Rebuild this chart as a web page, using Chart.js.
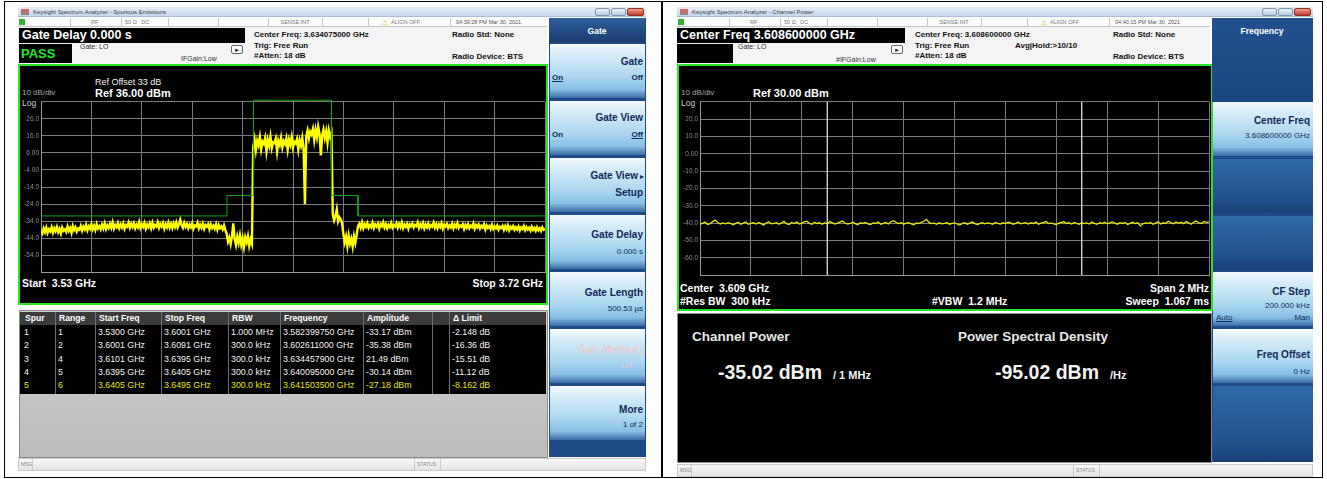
<!DOCTYPE html>
<html>
<head>
<meta charset="utf-8">
<title>Spectrum analyzer screens</title>
<script src="https://cdn.jsdelivr.net/npm/chart.js@4.4.1/dist/chart.umd.min.js"></script>
<style>
  body { margin:0; width:1327px; height:479px; background:#fff; position:relative; overflow:hidden;
         font-family:"Liberation Sans", Arial, sans-serif; }
  .a { position:absolute; box-sizing:border-box; }
  .t { position:absolute; white-space:pre; line-height:1; }
  .key { background:linear-gradient(#f4fafd 0%, #d6ecf8 20%, #acd7ef 60%, #88bfe3 84%, #3a6ca6 100%); }
  .slot { background:linear-gradient(#3068a8, #23528f 70%, #1b4178); }
  canvas { position:absolute; z-index:5; }
</style>
</head>
<body>
<canvas id="spurChart" width="527" height="182" style="left:20px;top:96px"></canvas>
<canvas id="cpChart" width="530" height="185" style="left:680px;top:96px"></canvas>
<script>
// ---------- left screen: spurious emissions sweep ----------
const spurStartGHz = 3.53;
const spurStopGHz = 3.72;
// trace in dBm, one point every 0.5 MHz
const spurTrace = [
  -39.5,-41.2,-38.3,-40.6,-37.9,-41.0,-38.8,-40.1,-37.6,-40.8,
  -38.2,-39.9,-37.4,-40.5,-38.6,-41.3,-37.8,-39.7,-38.9,-40.4,
  -37.2,-39.8,-38.1,-40.9,-36.9,-39.3,-37.7,-40.2,-38.4,-39.1,
  -36.8,-39.6,-37.3,-38.9,-36.2,-39.4,-37.1,-38.6,-35.9,-38.8,
  -36.7,-39.2,-35.8,-38.4,-37.0,-38.9,-36.1,-38.3,-35.4,-38.7,
  -36.5,-38.1,-35.6,-37.9,-34.8,-38.5,-36.3,-37.6,-35.2,-38.2,
  -36.0,-37.8,-35.5,-38.6,-36.4,-37.3,-34.9,-38.0,-35.7,-37.5,
  -35.3,-38.3,-36.2,-37.7,-34.6,-38.1,-35.9,-37.4,-35.1,-38.4,
  -36.1,-37.6,-35.4,-38.2,-35.0,-37.9,-36.3,-37.2,-34.7,-38.0,
  -35.8,-37.3,-35.2,-38.5,-36.0,-37.7,-34.9,-37.9,-35.6,-38.1,
  -35.4,-37.5,-34.8,-37.8,-35.9,-33.2,-36.4,-38.0,-35.1,-37.4,
  -35.7,-38.2,-36.1,-37.6,-35.3,-38.4,-36.6,-37.1,-35.0,-38.3,
  -36.2,-37.9,-35.5,-38.6,-36.4,-37.3,-35.8,-38.8,-36.0,-38.1,
  -36.7,-38.5,-35.9,-39.0,-36.3,-38.2,-37.1,-38.9,-36.5,-39.3,
  -41.5,-46.2,-43.8,-47.5,-42.9,-35.4,-44.6,-48.1,-43.2,-46.9,
  -42.4,-47.8,-44.1,-49.2,-43.5,-46.4,-42.8,-48.6,-44.9,-47.3,
  9.8,14.1,7.6,13.2,10.5,15.3,8.2,12.7,11.4,14.8,
  7.1,13.6,10.2,15.6,8.9,12.3,11.8,14.4,6.8,13.1,
  10.7,15.0,9.3,12.9,11.2,14.6,8.0,13.8,10.9,15.4,
  9.1,12.5,11.6,14.2,7.9,13.4,10.3,14.9,8.6,-24.1,
  15.8,19.2,14.6,18.5,16.9,20.1,13.7,19.6,15.2,21.5,
  17.4,4.6,16.3,19.8,14.9,18.7,12.1,19.3,15.6,17.8,
  -30.1,-33.6,-31.2,-27.2,-34.1,-31.8,-33.0,-35.2,
  -41.8,-46.5,-43.1,-48.7,-42.6,-47.2,-44.4,-49.1,-43.0,-46.8,-42.2,
  -37.0,
  -35.6,-37.9,-34.8,-38.2,-35.9,-37.4,-35.2,-38.0,-36.3,-37.6,
  -34.9,-38.1,-36.0,-37.3,-35.5,-38.4,-35.8,-37.0,-34.7,-37.8,
  -35.9,-38.3,-36.2,-37.5,-35.1,-37.9,-36.4,-37.2,-35.3,-38.0,
  -35.7,-37.6,-34.9,-38.2,-36.1,-37.4,-35.6,-38.5,-36.0,-37.1,
  -35.4,-37.8,-36.3,-37.0,-34.8,-38.1,-35.9,-37.5,-35.2,-38.3,
  -36.1,-37.7,-35.5,-38.0,-36.4,-37.3,-35.0,-37.9,-35.8,-38.2,
  -36.0,-37.6,-35.3,-38.4,-36.2,-37.2,-35.7,-38.1,-36.5,-37.8,
  -35.6,-38.3,-36.1,-37.5,-35.2,-38.0,-36.6,-37.4,-35.9,-38.6,
  -36.3,-37.9,-35.8,-38.2,-36.7,-37.6,-35.4,-38.5,-36.4,-37.7,
  -36.0,-38.4,-36.8,-37.8,-35.9,-38.9,-36.5,-38.0,-36.9,-38.7,
  -36.2,-38.6,-37.1,-38.3,-36.6,-39.0,-37.3,-38.1,-36.8,-39.2,
  -37.0,-38.8,-36.5,-39.4,-37.4,-38.5,-36.9,-39.1,-37.6,-38.9,
  -37.2,-39.5,-37.8,-38.7,-36.9,-39.3,-37.5,-39.0,-37.9,-39.6,
  -37.3,-39.2,-38.0,-39.7,-37.6,-39.4,-38.2,-39.8,-37.7,-39.1,-38.4
];
const limitFreqs  = [3.53, 3.6001, 3.6001, 3.6101, 3.6101, 3.6395, 3.6395, 3.6495, 3.6495, 3.72];
const limitLevels = [-31, -31, -19, -19, 37, 37, -19, -19, -31, -31];
const spurRefLevel = 36;
const spurYLabels = ['', '26.0', '16.0', '6.00', '-4.00', '-14.0', '-24.0', '-34.0', '-44.0', '-54.0', ''];

const spurTableHead = ['Spur', 'Range', 'Start Freq', 'Stop Freq', 'RBW', 'Frequency', 'Amplitude', '', '\u0394 Limit'];
const spurTableRows = [
  ['1', '1', '3.5300 GHz', '3.6001 GHz', '1.000 MHz', '3.582399750 GHz', '-33.17 dBm', '', '-2.148 dB'],
  ['2', '2', '3.6001 GHz', '3.6091 GHz', '300.0 kHz', '3.602611000 GHz', '-35.38 dBm', '', '-16.36 dB'],
  ['3', '4', '3.6101 GHz', '3.6395 GHz', '300.0 kHz', '3.634457900 GHz', '21.49 dBm', '', '-15.51 dB'],
  ['4', '5', '3.6395 GHz', '3.6405 GHz', '300.0 kHz', '3.640095000 GHz', '-30.14 dBm', '', '-11.12 dB'],
  ['5', '6', '3.6405 GHz', '3.6495 GHz', '300.0 kHz', '3.641503500 GHz', '-27.18 dBm', '', '-8.162 dB']
];

// ---------- right screen: channel power sweep ----------
const cpStartGHz = 3.6076;
const cpStopGHz = 3.6096;
const cpTrace = [
  -40.6,-40.1,-39.4,-40.8,-40.3,-39.1,-38.2,-39.6,-40.5,-39.9,
  -40.4,-39.7,-40.2,-40.9,-40.1,-39.5,-40.6,-40.0,-39.3,-40.7,
  -40.2,-39.8,-40.5,-39.6,-40.3,-41.0,-39.9,-39.2,-40.4,-40.1,
  -39.7,-40.6,-39.9,-39.0,-40.3,-40.8,-39.6,-40.2,-39.4,-40.5,
  -40.0,-39.3,-38.9,-40.1,-40.7,-39.5,-40.2,-39.8,-40.6,-39.7,
  -40.4,-39.1,-39.8,-40.5,-40.0,-39.4,-38.8,-39.9,-40.6,-40.2,
  -39.5,-40.3,-40.9,-39.8,-40.1,-39.6,-40.4,-40.8,-39.9,-40.2,
  -39.4,-40.7,-40.1,-39.6,-40.5,-39.2,-38.6,-39.5,-40.3,-39.8,
  -40.6,-40.0,-39.7,-40.4,-40.9,-39.9,-40.2,-39.5,-38.9,-37.8,
  -39.6,-40.3,-40.0,-40.7,-39.8,-40.4,-40.1,-39.7,-40.6,-40.2,
  -39.9,-40.5,-41.1,-40.3,-39.8,-40.6,-40.0,-39.4,-40.3,-40.8,
  -40.1,-39.7,-40.4,-39.9,-40.2,-40.7,-39.6,-40.1,-40.5,-39.8,
  -40.3,-39.5,-39.9,-40.6,-40.1,-39.3,-40.4,-40.0,-39.7,-40.5,
  -39.8,-40.2,-39.4,-40.7,-40.0,-39.6,-39.1,-40.3,-39.9,-40.4,
  -40.8,-40.0,-39.5,-39.2,-40.2,-39.8,-40.5,-39.6,-40.1,-40.6,
  -39.7,-40.3,-39.9,-40.5,-39.4,-40.1,-40.7,-39.8,-40.2,-39.5,
  -40.4,-39.9,-39.3,-40.0,-40.6,-39.7,-40.2,-39.6,-40.8,-40.1,
  -39.5,-40.3,-39.8,-41.6,-40.4,-39.9,-40.2,-39.6,-40.7,-40.0,
  -39.2,-40.5,-39.8,-40.1,-38.9,-39.7,-40.4,-39.3,-40.0,-39.5,
  -40.3,-39.1,-39.8,-40.6,-39.4,-38.8,-39.9,-40.2,-39.0,-39.6,-39.3
];
const cpChannelEdges = [3.6081, 3.6091];
const cpRefLevel = 30;
const cpYLabels = ['', '20.0', '10.0', '0.00', '-10.0', '-20.0', '-30.0', '-40.0', '-50.0', '-60.0', ''];

// ---------- helpers ----------
const page = document.body;
function box(x, y, w, h, css, cls) {
  const d = document.createElement('div');
  d.className = 'a' + (cls ? ' ' + cls : '');
  d.style.cssText = `left:${x}px;top:${y}px;width:${w}px;height:${h}px;` + (css || '');
  page.appendChild(d);
  return d;
}
function text(x, yc, s, size, css, align) {
  const d = document.createElement('div');
  d.className = 't';
  d.textContent = s;
  let pos = `left:${x}px;`;
  if (align === 'r') pos = `right:${1327 - x}px;`;
  if (align === 'c') pos = `left:${x}px;transform:translateX(-50%);`;
  d.style.cssText = pos + `top:${(yc - size * 0.49).toFixed(1)}px;font-size:${size}px;` + (css || '');
  page.appendChild(d);
  return d;
}
const navy = 'color:#0f2a5a;font-weight:bold;';

// window frame shared by both screenshots
function chrome(ox, w, hdrW, title, clock, msgY, skBottom) {
  box(ox, 7, w, 10, 'background:linear-gradient(#e8f0f9,#c6d7ed);border-bottom:1px solid #a9bdd6');
  box(ox + 3, 9, 8, 6, 'background:linear-gradient(#e0605a,#8a8a8a)');
  text(ox + 15, 12, title, 6, 'color:#3b3b3b');
  box(ox + w - 51, 8, 15, 8, 'background:linear-gradient(#eef4fa,#b7cae1);border:1px solid #8497b0;border-radius:2px');
  box(ox + w - 35, 8, 15, 8, 'background:linear-gradient(#eef4fa,#b7cae1);border:1px solid #8497b0;border-radius:2px');
  box(ox + w - 19, 8, 17, 8, 'background:linear-gradient(#eba294,#c33a29);border:1px solid #8e2f22;border-radius:2px');
  // status row
  box(ox, 18, hdrW, 9, 'background:#fcfcfc;border-bottom:1px solid #c4c4c4');
  box(ox + 1, 19, 6, 6, 'background:#2fb52f');
  [52, 103, 150, 200, 250, 304, 350, 432].forEach(p => box(ox + p, 18, 1, 9, 'background:#c8c8c8'));
  text(ox + 73, 22.5, 'RF', 5.5, 'color:#777');
  text(ox + 107, 22.5, '50 \u03a9   DC', 5.5, 'color:#777');
  text(ox + 277, 22.5, 'SENSE:INT', 5.5, 'color:#777', 'c');
  text(ox + 364, 22.5, '\u26a0', 7, 'color:#d9b400');
  text(ox + 373, 22.5, 'ALIGN OFF', 5.5, 'color:#777');
  text(ox + 438, 22.5, clock, 5.5, 'color:#555');
  // header
  box(ox, 27, hdrW, 37, 'background:#f4f4f4');
  // message bar
  box(ox, msgY, w, 13, 'background:linear-gradient(#f8f8f8,#e4e4e4);border:1px solid #cacaca');
  text(ox + 3, msgY + 6.5, 'MSG', 5, 'color:#888');
  box(ox + 14, msgY, 1, 13, 'background:#cacaca');
  box(ox + 396, msgY, 1, 13, 'background:#cacaca');
  text(ox + 399, msgY + 6.5, 'STATUS', 5, 'color:#888');
  box(ox + 422, msgY, 1, 13, 'background:#cacaca');
  // softkey column
  box(ox + hdrW + 2, 18, w - hdrW - 2, skBottom - 18, 'background:#1f4a86');
}

// ---------- left window ----------
chrome(18, 628, 529, 'Keysight Spectrum Analyzer - Spurious Emissions', '04:39:28 PM Mar 30, 2021', 458, 457);
box(19, 28, 226, 15, 'background:#000');
text(22, 35.5, 'Gate Delay 0.000 s', 12.5, 'color:#fff;font-weight:bold');
box(19, 44, 53, 19, 'background:#000');
text(21, 53.5, 'PASS', 13, 'color:#22e822;font-weight:bold');
text(80, 46, 'Gate: LO', 7, 'color:#333');
text(181, 58.5, 'IFGain:Low', 7, 'color:#333');
box(231, 45, 12, 9, 'border:1px solid #666;background:#fff;border-radius:2px');
text(234, 49.5, '\u25ba', 6, 'color:#222');
text(254, 35, 'Center Freq: 3.634075000 GHz', 8, 'color:#111;font-weight:bold');
text(254, 45.5, 'Trig: Free Run', 8, 'color:#111;font-weight:bold');
text(254, 56, '#Atten: 18 dB', 8, 'color:#111;font-weight:bold');
text(452, 35, 'Radio Std: None', 8, 'color:#111;font-weight:bold');
text(452, 57, 'Radio Device: BTS', 8, 'color:#111;font-weight:bold');

box(18, 64, 530, 241, 'background:#000;border:2px solid #27e427');
text(95, 82, 'Ref Offset 33 dB', 9, 'color:#f2f2f2');
text(95, 93, 'Ref 36.00 dBm', 11, 'color:#fff;font-weight:bold');
text(22, 93, '10 dB/div', 8, 'color:#a8a8a8');
text(22, 103, 'Log', 8.5, 'color:#cfcfcf');
text(22, 283, 'Start  3.53 GHz', 10.5, 'color:#fff;font-weight:bold');
text(543, 283, 'Stop 3.72 GHz', 10.5, 'color:#fff;font-weight:bold', 'r');

// spur table
const colX = [21, 55, 95, 161, 228, 280, 363, 432, 449, 546];
const rowY0 = 325, rowH = 13.4;
const rowsBottom = Math.round(rowY0 + rowH * spurTableRows.length + 2);
box(19, 310, 529, 148, 'background:linear-gradient(#cfcfcf,#bcbcbc);border:1px solid #8c8c8c');
box(20, 312, 526, rowY0 - 312, 'background:#3b3b3b');
box(20, rowY0, 526, rowsBottom - rowY0, 'background:#000');
colX.slice(1, -1).forEach(x => box(x, 312, 1, rowsBottom - 312, 'background:#6e6e6e'));
spurTableHead.forEach((h, c) => text(colX[c] + 4, 318.5, h, 8.6, 'color:#fff;font-weight:bold'));
spurTableRows.forEach((r, i) => {
  const col = i === spurTableRows.length - 1 ? '#e6e600' : '#f4f4f4';
  r.forEach((v, c) => text(colX[c] + 3, rowY0 + 7 + i * rowH, v, 8.8, 'color:' + col));
});

// left softkeys
box(549, 18, 96, 24, 'background:linear-gradient(#2f5f9d,#1b3c70)');
text(597, 31, 'Gate', 8.5, 'color:#fff;font-weight:bold', 'c');
for (let k = 0; k < 7; k++) box(550, 44 + k * 57, 95, 54, '', 'key');
text(643, 62, 'Gate', 10, navy, 'r');
text(552, 78, 'On', 8, navy + 'text-decoration:underline');
text(643, 78, 'Off', 8, navy, 'r');
text(643, 118, 'Gate View', 10, navy, 'r');
text(552, 135, 'On', 8, navy);
text(643, 135, 'Off', 8, navy + 'text-decoration:underline', 'r');
text(638, 176, 'Gate View', 10, navy, 'r');
text(640, 177, '\u25b8', 8, 'color:#0f2a5a');
text(643, 193, 'Setup', 10, navy, 'r');
text(643, 235, 'Gate Delay', 10, navy, 'r');
text(643, 252, '0.000 s', 8, 'color:#0f2a5a', 'r');
text(643, 293, 'Gate Length', 10, navy, 'r');
text(643, 309, '500.53 \u00b5s', 8, 'color:#0f2a5a', 'r');
text(638, 350, 'Gate Method', 10, 'color:#e9cdd0;font-weight:bold', 'r');
text(641, 352, '\u25b8', 8, 'color:#e9cdd0');
text(632, 366, 'LO', 8, 'color:#e9cdd0', 'r');
text(643, 410, 'More', 10, navy, 'r');
text(643, 425, '1 of 2', 8, 'color:#0f2a5a', 'r');

// ---------- right window ----------
chrome(677, 636, 533, 'Keysight Spectrum Analyzer - Channel Power', '04:40:15 PM Mar 30, 2021', 464, 462);
box(677, 28, 228, 15, 'background:#000');
text(680, 35.5, 'Center Freq 3.608600000 GHz', 12.5, 'color:#fff;font-weight:bold');
box(677, 44, 56, 19, 'background:#000');
text(738, 46, 'Gate: LO', 7, 'color:#333');
text(836, 59, '#IFGain:Low', 7, 'color:#333');
box(891, 45, 12, 9, 'border:1px solid #666;background:#fff;border-radius:2px');
text(894, 49.5, '\u25ba', 6, 'color:#222');
text(915, 35, 'Center Freq: 3.608600000 GHz', 8, 'color:#111;font-weight:bold');
text(915, 45.5, 'Trig: Free Run', 8, 'color:#111;font-weight:bold');
text(1015, 46, 'Avg|Hold:>10/10', 8, 'color:#111;font-weight:bold');
text(915, 56, '#Atten: 18 dB', 8, 'color:#111;font-weight:bold');
text(1113, 35, 'Radio Std: None', 8, 'color:#111;font-weight:bold');
text(1113, 57, 'Radio Device: BTS', 8, 'color:#111;font-weight:bold');

box(677, 64, 536, 247, 'background:#000;border:2px solid #27e427');
text(681, 93, '10 dB/div', 8, 'color:#a8a8a8');
text(753, 93, 'Ref 30.00 dBm', 11, 'color:#fff;font-weight:bold');
text(681, 103, 'Log', 8.5, 'color:#cfcfcf');
text(680, 288, 'Center  3.609 GHz', 10.5, 'color:#fff;font-weight:bold');
text(680, 301, '#Res BW  300 kHz', 10.5, 'color:#fff;font-weight:bold');
text(932, 301, '#VBW  1.2 MHz', 10.5, 'color:#fff;font-weight:bold');
text(1209, 288, 'Span 2 MHz', 10.5, 'color:#fff;font-weight:bold', 'r');
text(1209, 301, 'Sweep  1.067 ms', 10.5, 'color:#fff;font-weight:bold', 'r');

box(677, 313, 535, 150, 'background:#000;border:1px solid #8a8a8a');
text(692, 337, 'Channel Power', 13.5, 'color:#e6e6e6;font-weight:bold');
text(958, 337, 'Power Spectral Density', 13.5, 'color:#e6e6e6;font-weight:bold');
text(718, 373, '-35.02 dBm', 19.5, 'color:#f2f2f2;font-weight:bold');
text(833, 375, '/ 1 MHz', 11, 'color:#f2f2f2;font-weight:bold');
text(995, 373, '-95.02 dBm', 19.5, 'color:#f2f2f2;font-weight:bold');
text(1110, 375, '/Hz', 11, 'color:#f2f2f2;font-weight:bold');

// right softkeys
box(1212, 18, 101, 84, 'background:linear-gradient(#22508e,#1d467f)');
text(1262, 31, 'Frequency', 8.5, 'color:#fff;font-weight:bold', 'c');
box(1213, 102, 100, 54, '', 'key');
box(1213, 159, 100, 54, '', 'slot');
box(1213, 216, 100, 54, '', 'slot');
box(1213, 272, 100, 54, '', 'key');
box(1213, 329, 100, 54, '', 'key');
box(1213, 386, 100, 76, '', 'slot');
text(1310, 121, 'Center Freq', 10, navy, 'r');
text(1310, 136, '3.608600000 GHz', 8, 'color:#0f2a5a', 'r');
text(1310, 292, 'CF Step', 10, navy, 'r');
text(1310, 306, '200.000 kHz', 8, 'color:#0f2a5a', 'r');
text(1216, 318, 'Auto', 8, 'color:#0f2a5a;text-decoration:underline');
text(1310, 318, 'Man', 8, 'color:#0f2a5a', 'r');
text(1310, 355, 'Freq Offset', 10, navy, 'r');
text(1310, 372, '0 Hz', 8, 'color:#0f2a5a', 'r');

// outer frame of the figure
box(4, 1, 1319, 477, 'border:1.5px solid #000');
box(661, 1, 1.5, 477, 'background:#000');

// ---------- charts ----------
Chart.defaults.font.family = '"Liberation Sans", Arial, sans-serif';
Chart.defaults.animation = false;

function gridScaleX(min, max) {
  return {
    type: 'linear', min: min, max: max,
    ticks: { display: false, count: 11 },
    grid: { color: '#7c7c7c', drawTicks: false },
    border: { color: '#9c9c9c' },
    afterFit: s => { s.height = 0; }
  };
}
function gridScaleY(ref, labels, axisW) {
  return {
    min: ref - 100, max: ref,
    ticks: { count: 11, color: '#8d8d8d', font: { size: 6.5 }, padding: 2,
             callback: v => labels[Math.round((ref - v) / 10)] },
    grid: { color: '#7c7c7c', drawTicks: false },
    border: { color: '#9c9c9c' },
    afterFit: s => { s.width = axisW; }
  };
}
const baseOptions = (xs, ys, pad) => ({
  responsive: false, devicePixelRatio: 1, animation: false,
  layout: { padding: pad },
  plugins: { legend: { display: false }, tooltip: { enabled: false } },
  scales: { x: xs, y: ys }
});

const spurFreqs = spurTrace.map((_, i) => spurStartGHz + i * (spurStopGHz - spurStartGHz) / (spurTrace.length - 1));
new Chart(document.getElementById('spurChart'), {
  type: 'line',
  data: {
    datasets: [
      { data: limitFreqs.map((f, i) => ({ x: f, y: limitLevels[i] })),
        borderColor: '#17a317', borderWidth: 1, pointRadius: 0, clip: false },
      { data: spurFreqs.map((f, i) => ({ x: f, y: spurTrace[i] })),
        borderColor: '#ffff00', borderWidth: 2.4, pointRadius: 0 }
    ]
  },
  options: baseOptions(gridScaleX(spurStartGHz, spurStopGHz), gridScaleY(spurRefLevel, spurYLabels, 21),
                       { left: 0, right: 2, top: 4, bottom: 4 })
});

const cpFreqs = cpTrace.map((_, i) => cpStartGHz + i * (cpStopGHz - cpStartGHz) / (cpTrace.length - 1));
new Chart(document.getElementById('cpChart'), {
  type: 'line',
  data: {
    datasets: [
      ...cpChannelEdges.map(f => ({ data: [{ x: f, y: cpRefLevel - 100 }, { x: f, y: cpRefLevel }],
        borderColor: '#f4f4f4', borderWidth: 1.2, pointRadius: 0 })),
      { data: cpFreqs.map((f, i) => ({ x: f, y: cpTrace[i] })),
        borderColor: '#e8e800', borderWidth: 1.3, pointRadius: 0 }
    ]
  },
  options: baseOptions(gridScaleX(cpStartGHz, cpStopGHz), gridScaleY(cpRefLevel, cpYLabels, 20),
                       { left: 0, right: 1, top: 4, bottom: 4 })
});
</script>
</body>
</html>
